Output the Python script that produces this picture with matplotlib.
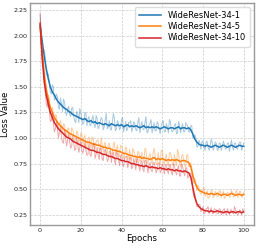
import numpy as np
import matplotlib.pyplot as plt

# values
epochs = np.arange(0, 101)          # smoothed curve + raw samples at whole epochs
mid_epochs = np.arange(0, 100) + 0.5  # raw samples between epochs
labels = ["WideResNet-34-1", "WideResNet-34-5", "WideResNet-34-10"]

smooth_wrn1 = np.array("""
2.10 1.95 1.80 1.68 1.58 1.50 1.45 1.42 1.38 1.35 1.33 1.31 1.29 1.28 1.26 1.25 1.23 1.22 1.21 1.20
1.19 1.18 1.19 1.17 1.16 1.17 1.15 1.16 1.14 1.15 1.14 1.13 1.14 1.13 1.12 1.14 1.13 1.12 1.13 1.12
1.13 1.11 1.12 1.13 1.11 1.12 1.11 1.12 1.11 1.10 1.11 1.12 1.10 1.11 1.10 1.11 1.10 1.11 1.10 1.09
1.10 1.11 1.10 1.09 1.10 1.10 1.09 1.10 1.11 1.09 1.10 1.10 1.09 1.10 1.08 1.04 0.99 0.96 0.94 0.93
0.93 0.92 0.93 0.92 0.91 0.92 0.93 0.92 0.91 0.92 0.93 0.92 0.91 0.92 0.93 0.92 0.91 0.92 0.93 0.92
0.92""".split(), dtype=float)

raw_wrn1 = np.array("""
2.20 1.90 1.86 1.62 1.63 1.45 1.52 1.37 1.43 1.30 1.39 1.26 1.35 1.22 1.31 1.21 1.30 1.17 1.26 1.15
1.24 1.13 1.25 1.12 1.21 1.13 1.22 1.10 1.19 1.11 1.20 1.08 1.18 1.09 1.17 1.08 1.24 1.07 1.17 1.08
1.18 1.06 1.16 1.09 1.15 1.06 1.16 1.08 1.15 1.05 1.16 1.08 1.21 1.06 1.14 1.05 1.15 1.07 1.14 1.04
1.15 1.06 1.14 1.05 1.16 1.06 1.13 1.04 1.16 1.05 1.14 1.06 1.13 1.06 1.12 1.00 1.03 0.91 0.98 0.89
0.97 0.88 0.97 0.88 0.99 0.88 0.96 0.88 0.95 0.88 0.97 0.89 0.95 0.87 0.98 0.88 0.95 0.89 0.96 0.88
0.95""".split(), dtype=float)

raw_wrn1_mid = np.array("""
2.06 1.85 1.80 1.61 1.55 1.43 1.50 1.39 1.40 1.28 1.34 1.38 1.25 1.28 1.23 1.29 1.21 1.15 1.24 1.29
1.18 1.15 1.24 1.19 1.12 1.19 1.14 1.22 1.09 1.16 1.18 1.11 1.24 1.11 1.08 1.16 1.19 1.09 1.14 1.10
1.20 1.11 1.07 1.15 1.17 1.10 1.14 1.07 1.20 1.12 1.09 1.15 1.05 1.13 1.18 1.10 1.07 1.16 1.08 1.13
1.17 1.06 1.11 1.18 1.07 1.08 1.14 1.05 1.13 1.11 1.06 1.15 1.12 1.06 1.12 1.01 1.00 0.92 0.95 0.97
0.91 0.96 0.91 0.92 0.96 0.91 0.95 0.89 0.95 0.92 0.94 0.90 0.95 0.93 0.91 0.95 0.90 0.94 0.96 0.91
""".split(), dtype=float)

smooth_wrn5 = np.array("""
2.08 1.85 1.62 1.48 1.38 1.30 1.25 1.20 1.17 1.14 1.12 1.10 1.08 1.07 1.05 1.04 1.03 1.02 1.01 1.00
0.99 0.98 0.97 0.96 0.96 0.95 0.94 0.94 0.93 0.93 0.92 0.91 0.91 0.90 0.90 0.89 0.88 0.88 0.87 0.87
0.86 0.85 0.85 0.84 0.83 0.83 0.82 0.82 0.81 0.82 0.80 0.81 0.80 0.80 0.79 0.80 0.81 0.79 0.80 0.79
0.80 0.79 0.78 0.79 0.78 0.79 0.78 0.79 0.78 0.77 0.78 0.78 0.77 0.76 0.72 0.64 0.57 0.52 0.49 0.48
0.47 0.46 0.46 0.45 0.46 0.45 0.45 0.46 0.45 0.44 0.45 0.45 0.44 0.45 0.46 0.45 0.44 0.45 0.45 0.44
0.45""".split(), dtype=float)

raw_wrn5 = np.array("""
2.15 1.80 1.68 1.43 1.42 1.25 1.30 1.15 1.22 1.09 1.17 1.05 1.13 1.02 1.10 0.99 1.08 0.97 1.07 0.95
1.05 0.93 1.03 0.91 1.01 0.90 1.00 0.89 0.98 0.88 1.00 0.87 0.96 0.85 0.95 0.84 0.94 0.83 0.93 0.82
0.92 0.80 0.91 0.79 0.89 0.78 0.88 0.77 0.87 0.77 0.86 0.76 0.89 0.75 0.85 0.75 0.90 0.74 0.86 0.74
0.88 0.74 0.84 0.73 0.86 0.74 0.84 0.73 0.85 0.72 0.84 0.73 0.83 0.72 0.76 0.60 0.60 0.49 0.52 0.45
0.50 0.43 0.49 0.42 0.49 0.42 0.48 0.43 0.48 0.42 0.48 0.42 0.47 0.42 0.49 0.42 0.47 0.42 0.48 0.42
0.47""".split(), dtype=float)

raw_wrn5_mid = np.array("""
1.96 1.78 1.57 1.40 1.39 1.26 1.24 1.23 1.13 1.15 1.10 1.14 1.04 1.09 1.03 1.10 1.04 0.99 1.05 0.98
1.04 1.00 0.93 0.99 0.95 1.01 0.91 0.96 0.98 0.89 0.93 0.94 0.85 0.94 0.88 0.86 0.96 0.89 0.82 0.93
0.89 0.83 0.90 0.80 0.82 0.90 0.84 0.76 0.86 0.78 0.82 0.90 0.75 0.82 0.78 0.86 0.83 0.74 0.79 0.88
0.77 0.80 0.75 0.85 0.81 0.74 0.77 0.89 0.75 0.82 0.79 0.72 0.84 0.72 0.71 0.56 0.57 0.54 0.47 0.47
0.52 0.44 0.41 0.44 0.49 0.43 0.46 0.43 0.49 0.46 0.41 0.44 0.46 0.43 0.46 0.43 0.49 0.44 0.48 0.43
""".split(), dtype=float)

smooth_wrn10 = np.array("""
2.12 1.80 1.55 1.42 1.33 1.25 1.20 1.15 1.12 1.09 1.07 1.05 1.03 1.01 1.00 0.99 0.97 0.96 0.95 0.94
0.93 0.92 0.91 0.90 0.89 0.88 0.88 0.87 0.86 0.86 0.85 0.84 0.84 0.83 0.82 0.82 0.81 0.80 0.80 0.79
0.78 0.78 0.77 0.77 0.76 0.75 0.75 0.74 0.74 0.73 0.73 0.72 0.73 0.72 0.71 0.72 0.71 0.71 0.70 0.71
0.70 0.70 0.69 0.70 0.69 0.69 0.68 0.69 0.68 0.68 0.67 0.68 0.67 0.66 0.62 0.52 0.42 0.36 0.33 0.31
0.30 0.29 0.29 0.28 0.29 0.28 0.28 0.29 0.28 0.28 0.27 0.28 0.28 0.27 0.28 0.28 0.27 0.28 0.28 0.27
0.28""".split(), dtype=float)

raw_wrn10 = np.array("""
2.22 1.72 1.62 1.34 1.38 1.16 1.24 1.06 1.16 1.00 1.11 0.96 1.08 0.92 1.04 0.90 1.02 0.88 1.00 0.86
0.98 0.85 0.96 0.83 0.95 0.82 0.93 0.80 0.91 0.79 0.90 0.78 0.89 0.77 0.87 0.76 0.86 0.74 0.85 0.73
0.84 0.72 0.82 0.71 0.81 0.70 0.80 0.69 0.79 0.68 0.78 0.67 0.78 0.66 0.76 0.67 0.76 0.66 0.75 0.66
0.75 0.65 0.74 0.65 0.74 0.64 0.73 0.64 0.73 0.63 0.72 0.63 0.71 0.62 0.65 0.48 0.45 0.33 0.35 0.28
0.33 0.27 0.31 0.26 0.32 0.26 0.30 0.26 0.31 0.25 0.30 0.26 0.31 0.25 0.30 0.26 0.30 0.25 0.30 0.25
0.29""".split(), dtype=float)

raw_wrn10_mid = np.array("""
1.92 1.67 1.46 1.30 1.28 1.17 1.15 1.09 1.09 1.06 1.01 0.95 1.01 0.98 0.96 0.92 0.95 0.89 0.94 0.90
0.88 0.90 0.88 0.84 0.84 0.89 0.95 0.84 0.84 0.90 0.79 0.87 0.85 0.79 0.87 0.84 0.78 0.86 0.79 0.82
0.74 0.80 0.82 0.75 0.80 0.72 0.76 0.80 0.72 0.76 0.69 0.78 0.72 0.74 0.69 0.76 0.72 0.69 0.76 0.68
0.72 0.74 0.69 0.74 0.66 0.75 0.67 0.70 0.63 0.75 0.67 0.71 0.61 0.66 0.65 0.43 0.40 0.33 0.35 0.30
0.26 0.31 0.33 0.28 0.27 0.31 0.30 0.26 0.30 0.27 0.31 0.25 0.28 0.30 0.27 0.33 0.27 0.26 0.29 0.31
""".split(), dtype=float)

colors = ["#1f77b4", "#ff7f0e", "#d62728"]
series = [(raw_wrn1, raw_wrn1_mid, smooth_wrn1),
          (raw_wrn5, raw_wrn5_mid, smooth_wrn5),
          (raw_wrn10, raw_wrn10_mid, smooth_wrn10)]

fig = plt.figure(figsize=(2.58, 2.48), dpi=100)
ax = fig.add_axes([0.116, 0.093, 0.868, 0.895])

for (raw, raw_mid, smooth), color, label in zip(series, colors, labels):
    # put whole-epoch and mid-epoch raw samples back in order
    x = np.concatenate([epochs, mid_epochs])
    y = np.concatenate([raw, raw_mid])
    order = np.argsort(x)
    ax.plot(x[order], y[order], color=color, alpha=0.4, linewidth=0.7)
    ax.plot(epochs, smooth, color=color, linewidth=1.1, label=label)

ax.set_xticks(np.arange(0, 101, 20))
ax.set_yticks(np.arange(0.25, 2.26, 0.25))
ax.yaxis.set_major_formatter(plt.FormatStrFormatter("%.2f"))
ax.tick_params(labelsize=4.6, length=0, pad=2, colors="#222222")
ax.grid(True, linestyle="--", color="#cccccc", linewidth=0.5)
for s in ax.spines.values():
    s.set_color("#999999")
    s.set_linewidth(1.0)

ax.set_xlabel("Epochs", fontsize=6.2, labelpad=1)
ax.set_ylabel("Loss Value", fontsize=6.2, labelpad=2)
ax.legend(loc="upper right", fontsize=6.0, handlelength=2.6, borderpad=0.5,
          labelspacing=0.25, framealpha=1.0, edgecolor="#dddddd")

fig.savefig("out.png", dpi=100)
